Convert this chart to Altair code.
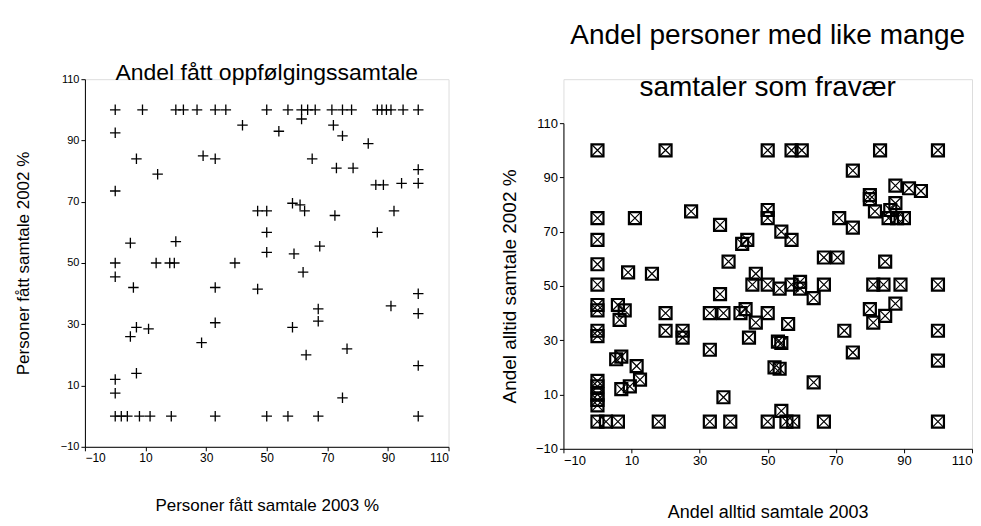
import altair as alt
import pandas as pd

FONT = "Liberation Sans"

# ---------------- data: left panel (Andel fått oppfølgingssamtale) ----------------
left_x = [0, 9, 20, 22.5, 27, 33, 36.5, 50, 57, 61.5, 63.5, 66, 71.5, 75, 78, 86.5, 88, 89.5, 91, 95, 100,
          0, 7, 14, 0, 5, 20, 29, 33, 42, 47,
          61.5, 54, 72, 75, 83.5, 65, 73, 78.5, 100, 86, 88.5, 94.5, 100,
          50, 58.5, 61, 62.5, 72.5, 92, 50, 86.5, 50, 59, 67.5,
          0, 0, 6, 13.5, 18, 19.5, 39.5, 33, 47, 33, 28.5, 5, 7, 11, 0, 0, 7,
          0, 2, 4, 8, 11.5, 18.5, 33, 50, 57, 67, 100,
          62, 100, 91, 100, 67, 67, 58.5, 76.5, 63, 100, 75]
left_y = [100, 100, 100, 100, 100, 100, 100, 100, 100, 100, 100, 100, 100, 100, 100, 100, 100, 100, 100, 100, 100,
          92.5, 84, 79, 73.5, 56.5, 57, 85, 84, 95, 67,
          97, 93, 95, 91.5, 89, 84, 81, 81, 80.5, 75.5, 75.5, 76, 76,
          67, 69.5, 69, 67, 65.5, 67, 60, 60, 53.5, 53, 55.5,
          50, 45.5, 42, 50, 50, 50, 50, 42, 41.5, 30.5, 24, 26, 29, 28.5, 12, 7.5, 14,
          0, 0, 0, 0, 0, 0, 0, 0, 0, 0, 0,
          47, 40, 36, 33.5, 35, 31, 29, 22, 20, 16.5, 6]

# ---------------- data: right panel (Andel personer med like mange samtaler som fravær) ----------------
right_x = [0, 20, 50, 57, 60, 83, 100,
           0, 11, 0, 0, 0, 9, 16, 27.5, 36, 38.5, 36,
           75, 87.5, 91.5, 95, 80, 80, 87.5, 86, 81.5, 85.5, 88, 90, 71, 75,
           50, 50, 54, 57, 42.5, 44, 66.5, 70.5, 84.5, 46.5,
           45.5, 50, 53.5, 57, 59.5, 59.5, 66.5, 81, 84, 89, 100,
           63.5, 87.5, 80, 84.5, 81,
           33, 37, 42, 43.5, 50, 46.5, 56, 44.5, 53, 54, 33, 52, 53.5, 63.5, 37, 54,
           100, 100, 72.5, 75,
           0, 0, 6, 8, 6.5, 20, 20, 25, 25, 0, 0, 5.5, 7, 11.5, 12.5, 7, 9.5,
           0, 0, 0, 0, 0,
           0, 2.5, 6, 18, 33, 39, 50, 55.5, 57.5, 66.5, 100]
right_y = [100, 100, 100, 100, 100, 100, 100,
           75, 75, 67, 58, 50.5, 55, 54.5, 77.5, 72.5, 59, 47,
           92.5, 87, 86, 85, 83.5, 82, 80.5, 78, 77.5, 75, 75, 75, 75, 71.5,
           78, 75, 70, 67, 65.5, 67, 60.5, 60.5, 59, 54.5,
           50.5, 50.5, 49, 50.5, 51.5, 49, 50.5, 50.5, 50.5, 50.5, 50.5,
           45.5, 43.5, 41.5, 39, 36.5,
           40, 40, 40, 41.5, 40, 36.5, 36, 31, 29.5, 29, 26.5, 20, 19.5, 14.5, 9, 4,
           33.5, 22.5, 33.5, 25.5,
           43, 41, 43, 41, 37.5, 40, 33.5, 33.5, 31, 33.5, 31.5, 23, 24, 20.5, 15.5, 12, 13,
           15, 13, 10, 8, 6,
           0, 0, 0, 0, 0, 0, 0, 0, 0, 0, 0]

tick_values = [-10, 10, 30, 50, 70, 90, 110]

left_title = ["Andel fått oppfølgingssamtale"]
right_title = ["Andel personer med like mange", "samtaler som fravær"]

left_df = pd.DataFrame({"x": left_x, "y": left_y})
right_df = pd.DataFrame({"x": right_x, "y": right_y})

PLUS = "M-1,0L1,0M0,-1L0,1"
XCROSS = "M-1,-1L1,1M-1,1L1,-1"

LW, LH = 364, 368
RW, RH = 409, 370
R_TOP = 44  # right plot starts lower than the left one


def mk_axis(title, label_size, title_size, title_pad):
    return alt.Axis(title=title, values=tick_values, grid=False, tickSize=4,
                    labelFontSize=label_size, titleFontSize=title_size,
                    titlePadding=title_pad, labelPadding=2,
                    labelFont=FONT, titleFont=FONT, titleFontWeight="normal",
                    labelColor="black", titleColor="black",
                    domainColor="black", tickColor="black", domainWidth=1)


dom = [-10, 110]

# ---------------- left chart ----------------
left_pts = alt.Chart(left_df).mark_point(
    shape=PLUS, filled=False, color="black", strokeWidth=1.3, size=110, opacity=1
).encode(
    x=alt.X("x:Q", scale=alt.Scale(domain=dom, nice=False, zero=False),
            axis=mk_axis("Personer fått samtale 2003 %", 12, 17, 34)),
    y=alt.Y("y:Q", scale=alt.Scale(domain=dom, nice=False, zero=False),
            axis=mk_axis("Personer fått samtale 2002 %", 11, 17, 28)),
)

left_ttl = alt.Chart(pd.DataFrame({"t": left_title})).mark_text(
    font=FONT, fontSize=23, color="black", baseline="middle", align="center"
).encode(text="t:N", x=alt.value(LW / 2), y=alt.value(-6))

left = alt.layer(left_pts, left_ttl).properties(width=LW, height=LH)

# ---------------- right chart ----------------
ry_scale = alt.Scale(domain=dom, nice=False, zero=False, range=[RH, R_TOP])
rx_scale = alt.Scale(domain=dom, nice=False, zero=False)

right_sq = alt.Chart(right_df).mark_point(
    shape="square", filled=False, color="black", strokeWidth=2.2, size=144, opacity=1
).encode(
    x=alt.X("x:Q", scale=rx_scale, axis=mk_axis("Andel alltid samtale 2003", 13, 18, 36)),
    y=alt.Y("y:Q", scale=ry_scale, axis=mk_axis("Andel alltid samtale 2002 %", 13, 19, 16)),
)
right_x_marks = alt.Chart(right_df).mark_point(
    shape=XCROSS, filled=False, color="black", strokeWidth=1.2, size=144, opacity=1
).encode(x=alt.X("x:Q", scale=rx_scale), y=alt.Y("y:Q", scale=ry_scale))

rt_df = pd.DataFrame({"t": right_title, "yy": [-43, 9]})
right_ttl = alt.Chart(rt_df).mark_text(
    font=FONT, fontSize=28, color="black", baseline="middle", align="center"
).encode(text="t:N", x=alt.value(RW / 2), y=alt.Y("yy:Q", scale=None))

right = alt.layer(right_sq, right_x_marks, right_ttl).properties(width=RW, height=RH)

chart = alt.hconcat(left, right, spacing=50).properties(
    padding={"left": 5, "top": 13, "right": 0, "bottom": 0}
).configure_view(stroke=None).configure(background="white")

chart.save("out.html", embed_options={"renderer": "svg", "actions": False})
